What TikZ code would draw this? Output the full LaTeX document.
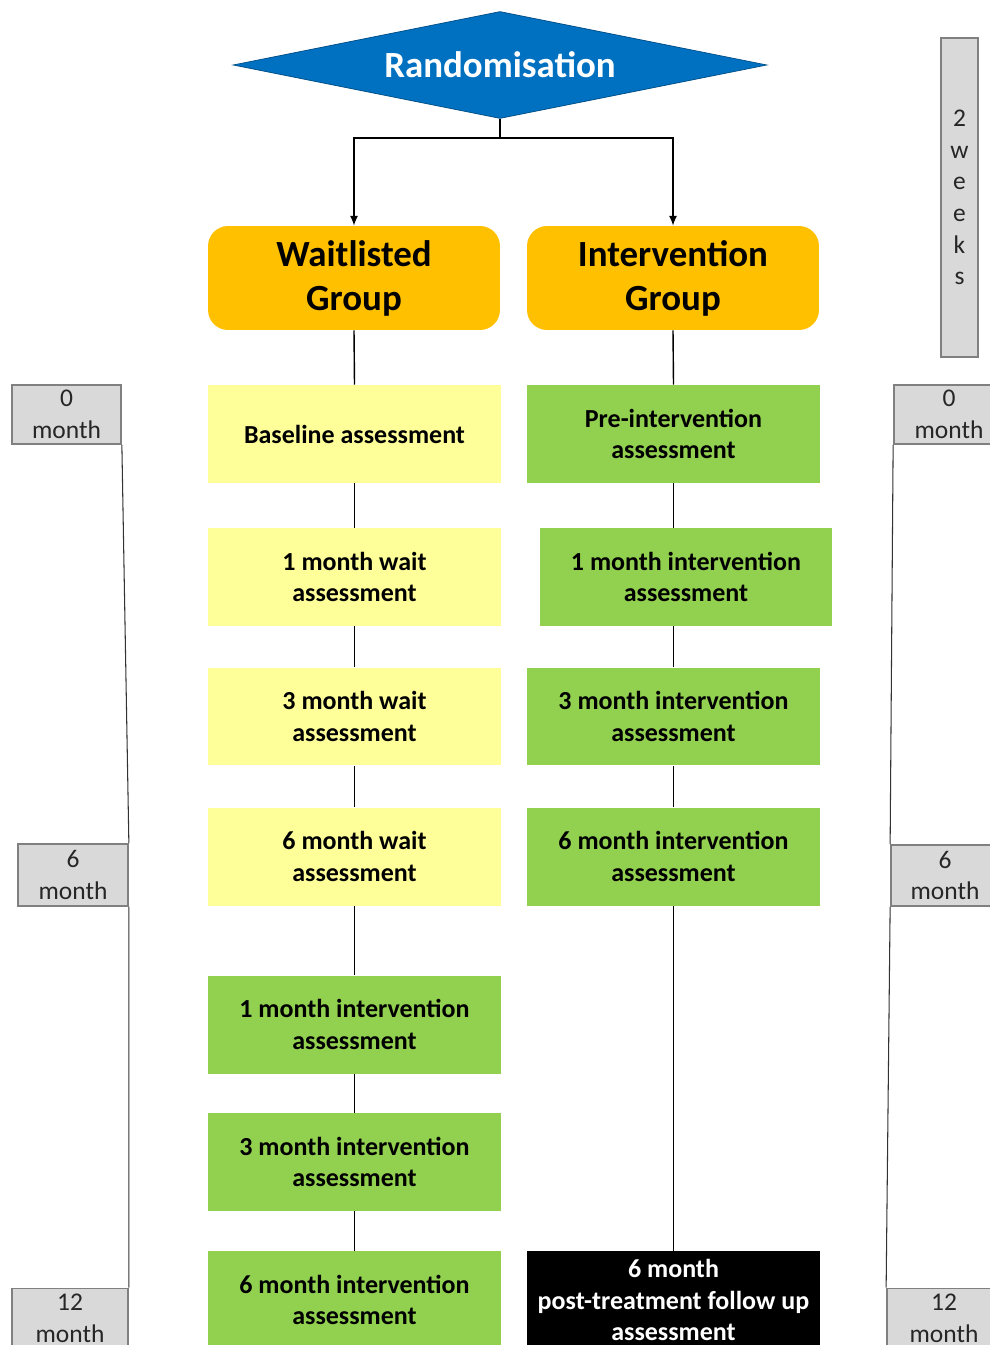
\documentclass[tikz,border=0pt]{standalone}
\usepackage{fontspec}
\setmainfont{Carlito}
\usetikzlibrary{shapes.geometric, arrows.meta}

\definecolor{randblue}{HTML}{0070C0}
\definecolor{groupgold}{HTML}{FFC000}
\definecolor{waityellow}{HTML}{FFFF99}
\definecolor{intgreen}{HTML}{92D050}
\definecolor{sidegray}{HTML}{D9D9D9}

\begin{document}
\begin{tikzpicture}[x = 0.02cm, y = -0.02cm,
	randnode/.style = {diamond, aspect = 5, fill = randblue, draw = randblue!70!black,
		minimum width = 10.68cm, minimum height = 2.14cm, inner sep = 0pt, text = white,
		font = \bfseries\fontsize{21}{25}\selectfont},
	groupnode/.style = {rectangle, rounded corners = 0.4cm, fill = groupgold,
		minimum width = 5.84cm, minimum height = 2.08cm, align = center,
		font = \bfseries\fontsize{21}{25}\selectfont},
	waitbox/.style = {rectangle, fill = waityellow, minimum width = 5.86cm,
		minimum height = 1.96cm, align = center, inner sep = 0pt,
		font = \bfseries\fontsize{14.8}{18}\selectfont},
	intbox/.style = {waitbox, fill = intgreen},
	followbox/.style = {waitbox, fill = black, text = white},
	monthbox/.style = {rectangle, fill = sidegray, draw = black!50, line width = 1pt,
		minimum height = 1.18cm, align = center, inner sep = 0pt, text = black!85,
		font = \fontsize{14.5}{18}\selectfont},
	link/.style = {thick},
	sideline/.style = {black!80, semithick}]
	 \useasboundingbox (0, 0) rectangle (990, 1345);
	 \clip (0, 0) rectangle (990, 1345);

	 \node[randnode] (rand) at (500, 65) {Randomisation};
	 \node[groupnode] (wg) at (354, 278) {Waitlisted\\Group};
	 \node[groupnode] (ig) at (673, 278) {Intervention\\Group};

	 \node[waitbox] (base) at (354.5, 434) {Baseline assessment};
	 \node[waitbox] (w1) at (354.5, 577) {1 month wait\\assessment};
	 \node[waitbox] (w3) at (354.5, 716.5) {3 month wait\\assessment};
	 \node[waitbox] (w6) at (354.5, 856.5) {6 month wait\\assessment};
	 \node[intbox] (wi1) at (354.5, 1024.5) {1 month intervention\\assessment};
	 \node[intbox] (wi3) at (354.5, 1162) {3 month intervention\\assessment};
	 \node[intbox] (wi6) at (354.5, 1300) {6 month intervention\\assessment};

	 \node[intbox] (pre) at (673.5, 434) {Pre-intervention\\assessment};
	 \node[intbox] (i1) at (686, 577) {1 month intervention\\assessment};
	 \node[intbox] (i3) at (673.5, 716.5) {3 month intervention\\assessment};
	 \node[intbox] (i6) at (673.5, 856.5) {6 month intervention\\assessment};
	 \node[followbox] (fol) at (673.5, 1300) {6 month\\post-treatment follow up\\assessment};

	 \node[monthbox, minimum width = 2.18cm] (m0l) at (66.5, 414.5) {0\\month};
	 \node[monthbox, minimum width = 2.2cm, minimum height = 1.24cm] (m6l) at (73, 875) {6\\month};
	 \node[monthbox, minimum width = 2.32cm] (m12l) at (70, 1318) {12\\month};
	 \node[monthbox, minimum width = 2.2cm] (m0r) at (949, 414.5) {0\\month};
	 \node[monthbox, minimum width = 2.16cm, minimum height = 1.22cm] (m6r) at (945, 875.5) {6\\month};
	 \node[monthbox, minimum width = 2.28cm] (m12r) at (944, 1318) {12\\month};
	 \node[monthbox, minimum width = 0.74cm, minimum height = 6.38cm] (weeks) at (959.5, 197.5) {2\\w\\e\\e\\k\\s};

	 \coordinate (split) at (500, 138);
	 \draw[link] (rand.south) -- (split);
	 \draw[link, -{Latex[length = 5.5pt, width = 4.5pt]}] (split) -| (wg.north);
	 \draw[link, -{Latex[length = 5.5pt, width = 4.5pt]}] (split) -| (ig.north);

	 \foreach \a/\b in {wg/base, base/w1, w1/w3, w3/w6, w6/wi1, wi1/wi3, wi3/wi6, ig/pre, i3/i6, i6/fol}
	 \draw[link] (\a.south) -- (\b.north);
	 \draw[link] (pre.south) -- (pre.south |- i1.north);
	 \draw[link] (i3.north |- i1.south) -- (i3.north);

	 \draw[sideline] (m0l.south east) -- (m6l.north east);
	 \draw[sideline] (m6l.south east) -- (m12l.north east);
	 \draw[sideline] (m0r.south west) -- (m6r.north west);
	 \draw[sideline] (m6r.south west) -- (m12r.north west);
\end{tikzpicture}
\end{document}
